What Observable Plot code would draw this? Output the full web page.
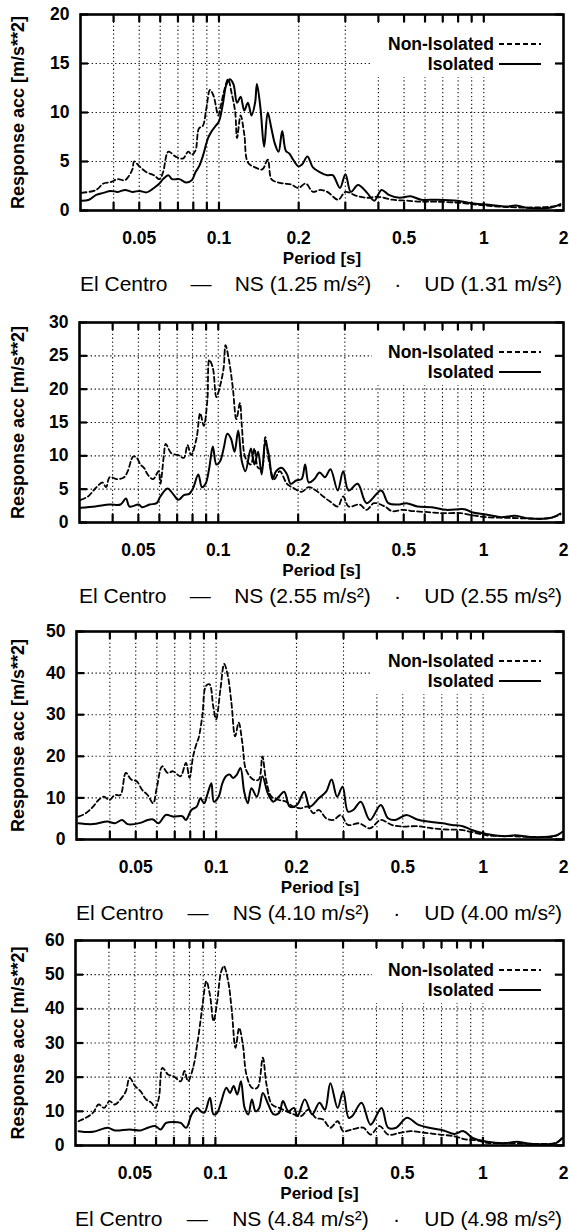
<!DOCTYPE html>
<html><head><meta charset="utf-8">
<script src="https://cdn.jsdelivr.net/npm/d3@7"></script>
<script src="https://cdn.jsdelivr.net/npm/@observablehq/plot@0.6"></script>
<style>
body{margin:0;background:#fff;}
#root{position:relative;width:569px;height:1232px;font-family:"Liberation Sans",Arial,sans-serif;color:#000;overflow:hidden;}
.panel{position:absolute;left:0;}
.caption{position:absolute;display:flex;justify-content:space-between;align-items:center;font-size:21px;height:24px;line-height:24px;white-space:nowrap;}
.legend{position:absolute;background:#fff;font-weight:bold;font-size:17.5px;}
.legend .lab{position:absolute;right:0;text-align:right;white-space:nowrap;line-height:20px;}
</style></head><body><div id="root"></div>
<script>
// ---- axis ticks ----
const xLabelTicks = [0.05, 0.1, 0.2, 0.5, 1, 2];
const xMinorTicks = [0.04, 0.05, 0.06, 0.07, 0.08, 0.09, 0.1, 0.2, 0.3, 0.4, 0.5, 0.6, 0.7, 0.8, 0.9, 1];
const seriesNames = ["Non-Isolated", "Isolated"];
const station = "El Centro";

// ---- panel 1 (NS 1.25, UD 1.31) : [period s, response acc m/s^2] ----
const p1Non = [[0.0303,1.8],[0.0344,2.1],[0.0366,2.75],[0.039,2.9],[0.0415,3.2],[0.0442,3.1],[0.0471,4.2],[0.0478,5.0],[0.0501,4.5],[0.0533,3.9],[0.0568,3.6],[0.0596,3.2],[0.0615,3.9],[0.0644,6.0],[0.0686,5.5],[0.073,5.3],[0.0766,6.0],[0.079,5.7],[0.0815,6.1],[0.0841,8.4],[0.0868,8.6],[0.0896,10.4],[0.0925,12.3],[0.0954,11.7],[0.0994,9.7],[0.1016,10.7],[0.1048,12.3],[0.1082,13.4],[0.1116,12.0],[0.1152,10.0],[0.117,7.4],[0.1207,9.7],[0.1246,7.8],[0.1286,4.9],[0.1369,4.4],[0.1458,4.2],[0.1528,5.2],[0.1577,3.2],[0.1653,2.9],[0.176,2.75],[0.1875,2.65],[0.1996,2.3],[0.2126,2.75],[0.2263,1.9],[0.241,2.1],[0.2566,1.9],[0.282,1.1],[0.3003,1.9],[0.33,1.5],[0.3626,1.3],[0.3984,1.4],[0.4518,1.1],[0.5122,1.0],[0.5807,0.9],[0.6585,0.9],[0.795,0.8],[0.9015,0.65],[1.022,0.5],[1.234,0.35],[1.444,0.3],[1.69,0.35],[1.947,0.5]];
const p1Iso = [[0.0303,1.0],[0.0323,1.1],[0.0344,1.6],[0.0366,1.8],[0.039,2.0],[0.0415,1.9],[0.0442,2.1],[0.0471,1.9],[0.0501,2.0],[0.0533,1.85],[0.0568,2.3],[0.0596,2.75],[0.0615,3.2],[0.0644,3.6],[0.0665,3.2],[0.0708,3.2],[0.0754,2.85],[0.079,3.1],[0.0815,3.9],[0.0841,4.5],[0.0868,5.5],[0.091,7.4],[0.0939,8.1],[0.0969,8.6],[0.1,9.1],[0.1032,10.7],[0.1065,12.8],[0.1099,13.4],[0.1134,12.9],[0.117,11.0],[0.1207,11.6],[0.1246,10.2],[0.1286,11.0],[0.1327,9.7],[0.1369,11.0],[0.1391,12.9],[0.1435,10.4],[0.1481,6.5],[0.1528,10.0],[0.1577,8.4],[0.1627,6.8],[0.1679,6.0],[0.1733,8.1],[0.1788,6.1],[0.1845,5.8],[0.1904,5.2],[0.1996,4.5],[0.206,4.7],[0.2159,5.5],[0.2263,4.4],[0.241,3.9],[0.2566,3.6],[0.269,3.6],[0.2864,2.3],[0.3003,3.7],[0.3148,1.9],[0.3352,2.6],[0.3626,1.8],[0.3861,1.0],[0.4111,2.1],[0.4378,1.6],[0.481,1.3],[0.5285,1.45],[0.5807,1.1],[0.6585,1.1],[0.795,1.0],[0.8736,0.8],[1.022,0.6],[1.234,0.4],[1.314,0.5],[1.491,0.25],[1.799,0.3],[1.947,0.65]];

// ---- panel 2 (NS 2.55, UD 2.55) ----
const p2Non = [[0.0303,3.4],[0.0323,3.9],[0.0344,5.1],[0.0366,6.0],[0.0378,5.3],[0.039,6.8],[0.0415,6.5],[0.0442,6.8],[0.0456,7.7],[0.0478,9.9],[0.0493,9.7],[0.0509,8.7],[0.0525,8.2],[0.0542,7.2],[0.0568,6.5],[0.0596,7.7],[0.0605,5.8],[0.0624,10.1],[0.0634,11.8],[0.0665,10.4],[0.0708,10.1],[0.0742,9.7],[0.0766,11.6],[0.079,10.1],[0.0828,12.6],[0.0855,16.4],[0.0882,14.5],[0.091,18.4],[0.0925,24.4],[0.0954,23.2],[0.0984,18.8],[0.1016,20.5],[0.1048,23.2],[0.1065,26.6],[0.1099,24.2],[0.1134,20.3],[0.117,15.5],[0.1207,17.9],[0.1227,14.5],[0.1266,9.7],[0.1327,8.7],[0.1369,11.1],[0.1413,8.2],[0.1458,8.2],[0.1504,12.8],[0.1552,9.2],[0.1627,6.5],[0.1706,7.7],[0.1816,5.8],[0.1935,5.1],[0.206,4.6],[0.2193,5.3],[0.2335,4.8],[0.2487,3.9],[0.2648,3.1],[0.282,2.4],[0.2956,3.9],[0.3099,2.4],[0.3405,2.7],[0.3626,1.9],[0.3861,2.9],[0.4243,2.4],[0.4518,1.7],[0.4964,1.9],[0.5454,1.7],[0.6184,1.55],[0.7011,1.4],[0.8204,1.4],[0.9015,1.1],[1.022,0.8],[1.234,0.7],[1.491,0.6],[1.799,0.7],[1.947,1.2]];
const p2Iso = [[0.0303,2.2],[0.0344,2.4],[0.039,2.7],[0.0428,2.7],[0.0449,3.6],[0.0463,2.4],[0.0501,2.7],[0.0517,2.3],[0.0551,2.7],[0.0586,2.9],[0.0605,3.9],[0.0644,5.1],[0.0675,4.3],[0.0708,3.4],[0.0742,4.1],[0.0778,4.3],[0.0803,5.1],[0.0841,7.2],[0.0868,5.3],[0.0896,5.8],[0.0925,8.2],[0.0954,11.4],[0.0984,8.7],[0.1016,9.2],[0.1048,11.1],[0.1082,13.3],[0.1116,12.6],[0.1152,10.6],[0.1189,13.8],[0.1227,9.2],[0.1266,7.7],[0.1327,11.1],[0.1369,8.7],[0.1413,10.6],[0.1458,7.2],[0.1504,12.1],[0.1552,10.1],[0.1602,6.5],[0.1653,7.7],[0.1733,8.2],[0.1816,7.2],[0.1875,5.8],[0.1965,6.3],[0.206,6.5],[0.2126,8.7],[0.2193,6.0],[0.2299,6.5],[0.241,7.5],[0.2526,6.8],[0.2648,8.0],[0.282,4.8],[0.2956,7.7],[0.3099,4.8],[0.3352,5.8],[0.3626,2.9],[0.4111,4.8],[0.4378,2.9],[0.481,2.7],[0.5122,2.9],[0.5628,2.4],[0.6381,2.3],[0.7235,1.9],[0.8466,2.0],[0.9015,1.55],[1.022,1.2],[1.159,0.8],[1.314,1.0],[1.491,0.6],[1.799,0.7],[1.947,1.35]];

// ---- panel 3 (NS 4.10, UD 4.00) ----
const p3Non = [[0.0305,5.5],[0.0325,6.3],[0.0346,7.9],[0.0363,9.5],[0.038,10.3],[0.0398,9.5],[0.0418,10.7],[0.0438,10.7],[0.0459,16.0],[0.0481,14.4],[0.0504,14.0],[0.0529,11.9],[0.0554,10.7],[0.0581,8.7],[0.0599,12.3],[0.0628,17.6],[0.0658,16.0],[0.069,16.4],[0.0735,15.2],[0.0771,18.4],[0.0795,14.8],[0.082,20.0],[0.0846,23.2],[0.086,24.4],[0.0888,29.7],[0.0916,36.9],[0.0945,37.3],[0.0975,32.1],[0.1,28.9],[0.1038,36.1],[0.1072,42.2],[0.1106,39.4],[0.1141,32.9],[0.1178,24.8],[0.1215,28.1],[0.1254,23.2],[0.1294,16.8],[0.1378,14.4],[0.1444,14.4],[0.149,20.0],[0.1538,14.4],[0.1612,10.3],[0.1717,9.5],[0.1827,9.1],[0.1947,7.9],[0.2073,7.5],[0.2207,7.9],[0.2313,6.3],[0.2425,7.1],[0.2582,5.1],[0.275,4.7],[0.293,5.9],[0.3118,3.5],[0.3427,3.9],[0.3767,2.7],[0.4137,4.7],[0.4547,3.5],[0.4995,3.1],[0.5663,3.2],[0.6422,2.7],[0.7281,2.4],[0.8256,2.3],[0.936,1.6],[1.029,1.0],[1.282,0.8],[1.544,0.6],[1.86,0.8],[1.98,1.8]];
const p3Iso = [[0.0305,3.9],[0.0346,3.7],[0.0392,4.3],[0.0418,3.9],[0.0445,4.7],[0.0466,3.7],[0.052,4.0],[0.0554,4.7],[0.0581,4.8],[0.0609,3.9],[0.0648,5.9],[0.069,5.5],[0.0747,5.6],[0.0771,4.7],[0.0808,7.1],[0.0846,7.9],[0.0874,9.9],[0.0902,8.7],[0.093,11.1],[0.096,13.5],[0.0981,9.1],[0.1022,10.3],[0.1055,13.5],[0.1089,15.2],[0.1123,15.6],[0.1159,14.8],[0.1196,15.6],[0.1234,17.2],[0.1274,11.5],[0.1314,8.7],[0.1356,12.3],[0.1422,10.3],[0.149,15.2],[0.1562,11.1],[0.1638,9.1],[0.1717,10.3],[0.1799,11.5],[0.1887,7.9],[0.2008,8.3],[0.2139,11.5],[0.2242,7.9],[0.2425,9.9],[0.2582,11.5],[0.2707,14.4],[0.2838,10.3],[0.2976,12.7],[0.3118,6.7],[0.3266,7.1],[0.3481,9.1],[0.3767,4.7],[0.4137,8.3],[0.4405,5.1],[0.4691,4.7],[0.5154,5.9],[0.5663,4.8],[0.6223,4.3],[0.7055,3.9],[0.7659,3.5],[0.8384,3.2],[0.9072,2.3],[1.029,1.3],[1.201,0.8],[1.322,1.0],[1.5,0.6],[1.86,0.9],[1.98,1.8]];

// ---- panel 4 (NS 4.84, UD 4.98) ----
const p4Non = [[0.0308,7.1],[0.0328,8.1],[0.0349,9.6],[0.0366,12.0],[0.0384,11.0],[0.0402,13.0],[0.0421,12.0],[0.0442,13.5],[0.0463,15.9],[0.0478,19.8],[0.0501,17.4],[0.0525,15.9],[0.0551,13.5],[0.0577,12.5],[0.0596,11.0],[0.0615,14.0],[0.0634,22.7],[0.0665,20.8],[0.0697,20.3],[0.0742,18.8],[0.0766,21.8],[0.079,18.8],[0.0828,23.2],[0.0855,29.6],[0.0868,33.0],[0.0896,41.3],[0.0925,48.1],[0.0954,44.1],[0.0984,36.4],[0.1016,42.2],[0.1048,50.5],[0.1075,52.5],[0.1116,48.1],[0.1152,39.3],[0.1189,28.6],[0.1227,34.4],[0.1266,29.6],[0.1306,20.8],[0.1369,16.9],[0.1435,16.9],[0.1504,25.7],[0.1552,17.9],[0.1627,12.0],[0.1733,11.0],[0.1845,10.0],[0.1965,9.1],[0.2093,8.6],[0.2228,10.5],[0.2372,8.1],[0.2526,7.6],[0.269,5.2],[0.2864,7.1],[0.3003,4.2],[0.3247,4.7],[0.357,5.2],[0.3801,3.2],[0.4111,5.7],[0.4422,3.2],[0.4887,3.7],[0.5369,4.2],[0.6088,3.7],[0.6903,3.2],[0.7828,2.7],[0.86,1.8],[0.9441,1.5],[1.038,0.8],[1.294,0.6],[1.559,0.5],[1.877,0.8],[1.98,2.2]];
const p4Iso = [[0.0308,4.2],[0.0349,4.0],[0.0396,5.2],[0.0421,4.4],[0.0478,4.7],[0.0525,4.4],[0.0559,5.2],[0.0596,5.7],[0.0624,4.7],[0.0654,6.6],[0.0697,6.9],[0.0742,6.6],[0.0778,5.2],[0.0815,9.1],[0.0855,11.0],[0.0882,10.0],[0.091,9.6],[0.0954,14.0],[0.0984,9.1],[0.1016,9.6],[0.1048,12.5],[0.1099,16.9],[0.1134,15.4],[0.117,17.4],[0.1207,14.9],[0.1246,18.8],[0.1286,11.0],[0.1327,9.1],[0.1369,13.5],[0.1413,10.0],[0.1458,11.0],[0.1504,15.4],[0.1577,12.0],[0.1653,9.1],[0.1733,9.6],[0.1788,13.0],[0.1875,10.0],[0.1965,11.0],[0.2028,8.6],[0.2159,13.5],[0.2299,9.1],[0.2448,12.5],[0.2566,10.5],[0.269,18.2],[0.2864,11.0],[0.3003,15.9],[0.3148,8.1],[0.3247,8.6],[0.3517,12.5],[0.3801,6.1],[0.4177,11.0],[0.4422,5.2],[0.4736,5.2],[0.5203,8.1],[0.5713,6.1],[0.6283,5.2],[0.7122,4.4],[0.7828,3.4],[0.8466,4.2],[0.9156,2.2],[1.038,1.1],[1.212,0.7],[1.335,1.1],[1.514,0.5],[1.877,0.7],[1.98,2.2]];

const yMaxes = [20, 30, 50, 60];
const yTickSets = [[0,5,10,15,20],[0,5,10,15,20,25,30],[0,10,20,30,40,50],[0,10,20,30,40,50,60]];
const nsPeaks = ["1.25", "2.55", "4.10", "4.84"];
const udPeaks = ["1.31", "2.55", "4.00", "4.98"];
const nonSeries = [p1Non, p2Non, p3Non, p4Non];
const isoSeries = [p1Iso, p2Iso, p3Iso, p4Iso];

// ---- layout (pixels) ----
const layout = [
  {top: 0,   mT: 14, fh: 196, mL: 80},
  {top: 308, mT: 14, fh: 200, mL: 79},
  {top: 617, mT: 14, fh: 208, mL: 76},
  {top: 926, mT: 14, fh: 205, mL: 75}
];
const W = 569, mR = 6, mB = 56;
const root = document.getElementById("root");
const FONT = "'Liberation Sans', Arial, sans-serif";

for (let i = 0; i < 4; i++) {
  const L = layout[i];
  const H = L.mT + L.fh + mB;
  const fw = W - L.mL - mR;
  const yTicks = yTickSets[i];
  const yGrid = yTicks.filter(v => v > 0 && v < yMaxes[i]);
  const dot = {stroke: "#000", strokeOpacity: 0.95, strokeWidth: 1.1, strokeDasharray: "1.3,2.6"};
  const chart = Plot.plot({
    width: W, height: H,
    marginTop: L.mT, marginLeft: L.mL, marginRight: mR, marginBottom: mB,
    x: {type: "log", domain: [0.03, 2], axis: null},
    y: {domain: [0, yMaxes[i]], axis: null},
    style: {fontFamily: FONT, fontSize: "17px", fontWeight: "bold", color: "#000", background: "#fff", overflow: "visible"},
    marks: [
      Plot.gridX(xMinorTicks, dot),
      Plot.gridY(yGrid, dot),
      Plot.line(nonSeries[i], {x: d => d[0], y: d => d[1], curve: "catmull-rom", stroke: "#000", strokeWidth: 1.8, strokeDasharray: "5,3"}),
      Plot.line(isoSeries[i], {x: d => d[0], y: d => d[1], curve: "catmull-rom", stroke: "#000", strokeWidth: 2}),
      Plot.tickX(xMinorTicks, {x: d => d, insetTop: L.fh - 8, stroke: "#000", strokeWidth: 2.2}),
      Plot.tickX(xMinorTicks, {x: d => d, insetBottom: L.fh - 8, stroke: "#000", strokeWidth: 2.2}),
      Plot.tickY(yTicks, {y: d => d, insetRight: fw - 8, stroke: "#000", strokeWidth: 2.2}),
      Plot.tickY(yTicks, {y: d => d, insetLeft: fw - 8, stroke: "#000", strokeWidth: 2.2}),
      Plot.frame({stroke: "#000", strokeWidth: 2.6}),
      Plot.text(xLabelTicks, {x: d => d, text: d => String(d), frameAnchor: "bottom", lineAnchor: "middle", textAnchor: "middle", dy: 28, fontSize: 17.5}),
      Plot.text(yTicks, {y: d => d, text: d => String(d), frameAnchor: "left", lineAnchor: "middle", textAnchor: "end", dx: -11, fontSize: 17.5}),
      Plot.text(["Period [s]"], {text: d => d, frameAnchor: "bottom", lineAnchor: "middle", textAnchor: "middle", dy: 48, fontSize: 17}),
      Plot.text(["Response acc [m/s**2]"], {text: d => d, frameAnchor: "left", lineAnchor: "middle", textAnchor: "middle", dx: -(L.mL - 18), rotate: -90, fontSize: 18})
    ]
  });
  const holder = document.createElement("div");
  holder.className = "panel";
  holder.style.top = L.top + "px";
  holder.appendChild(chart);
  root.appendChild(holder);

  const frameTop = L.top + L.mT;
  const frameBottom = frameTop + L.fh;
  const frameRight = W - mR;

  // legend (gnuplot key with opaque box)
  const leg = document.createElement("div");
  leg.className = "legend";
  const legLeft = 372, legRight = frameRight - 9;
  leg.style.left = legLeft + "px";
  leg.style.top = (frameTop + 9) + "px";
  leg.style.width = (legRight - legLeft) + "px";
  leg.style.height = "54px";
  const rowsY = [21, 41];
  seriesNames.forEach((name, k) => {
    const lab = document.createElement("div");
    lab.className = "lab";
    lab.textContent = name;
    lab.style.top = (rowsY[k] - 10) + "px";
    lab.style.right = (legRight - 494) + "px";
    leg.appendChild(lab);
    const svgNS = "http://www.w3.org/2000/svg";
    const s = document.createElementNS(svgNS, "svg");
    s.setAttribute("width", 44); s.setAttribute("height", 4);
    s.style.position = "absolute";
    s.style.left = (499 - legLeft) + "px";
    s.style.top = (rowsY[k] - 2) + "px";
    const ln = document.createElementNS(svgNS, "line");
    ln.setAttribute("x1", 0); ln.setAttribute("x2", 42);
    ln.setAttribute("y1", 2); ln.setAttribute("y2", 2);
    ln.setAttribute("stroke", "#000");
    ln.setAttribute("stroke-width", k === 0 ? 1.8 : 2);
    if (k === 0) ln.setAttribute("stroke-dasharray", "5,3");
    s.appendChild(ln);
    leg.appendChild(s);
  });
  root.appendChild(leg);

  // caption below the chart
  const cap = document.createElement("div");
  cap.className = "caption";
  cap.style.left = L.mL + "px";
  cap.style.width = (frameRight - 1 - L.mL) + "px";
  cap.style.top = (frameBottom + 74 - 12) + "px";
  [station, "\u2014", `NS (${nsPeaks[i]} m/s\u00B2)`, "\u00B7", `UD (${udPeaks[i]} m/s\u00B2)`].forEach(t => {
    const sp = document.createElement("span");
    sp.textContent = t;
    cap.appendChild(sp);
  });
  root.appendChild(cap);
}
</script></body></html>
